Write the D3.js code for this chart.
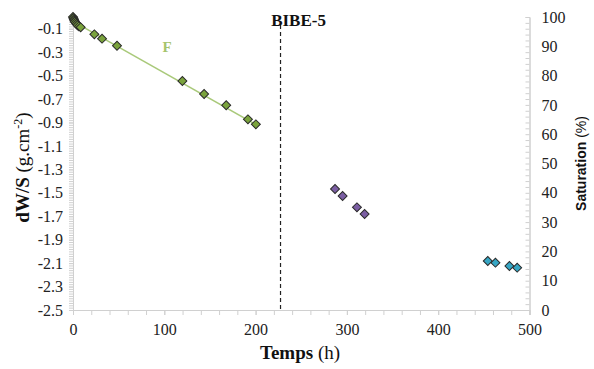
<!DOCTYPE html>
<html><head><meta charset="utf-8">
<script src="https://cdn.jsdelivr.net/npm/d3@7"></script>
<style>body{margin:0;background:#fff}svg{display:block}</style>
</head><body>
<svg id="c" width="594" height="369"></svg>
<script>
// Data
const greenT = [0, 0.5, 1, 1.5, 2, 3, 4, 5, 6.5, 8.4, 23.4, 31.8, 48.2, 119.8, 143.6, 167.8, 191.6, 200.3];
const greenV = [0, -0.01, -0.02, -0.03, -0.04, -0.05, -0.06, -0.07, -0.08, -0.088, -0.148, -0.185, -0.245, -0.546, -0.657, -0.753, -0.873, -0.916];
const purpleT = [287, 295.3, 311, 319.4];
const purpleV = [-1.468, -1.527, -1.624, -1.681];
const blueT = [454.3, 462.7, 478, 486.5];
const blueV = [-2.082, -2.096, -2.125, -2.139];
const fitT = [3, 201];
const fitV = [-0.05, -0.92];
const markerT = 227.3;
const leftTicks = [-0.1, -0.3, -0.5, -0.7, -0.9, -1.1, -1.3, -1.5, -1.7, -1.9, -2.1, -2.3, -2.5];
const rightTicks = [0, 10, 20, 30, 40, 50, 60, 70, 80, 90, 100];
const xTicks = [0, 100, 200, 300, 400, 500];

const SERIF = "'Liberation Serif','Times New Roman',serif";
const svg = d3.select("#c").style("font-family", SERIF);
const L = 73, R = 529.5, T = 17, B = 310;
const x = d3.scaleLinear().domain([0, 500]).range([L, R]);
const y = d3.scaleLinear().domain([-2.5, 0]).range([B, T]);
const y2 = d3.scaleLinear().domain([0, 100]).range([B, T]);
const axisCol = "#d0d0d0", txtCol = "#222";

// minor ticks
const minorY = d3.range(0, 126).map(i => -2.5 + i * 0.02);
const gMinorY = svg.append("g").attr("transform", `translate(${L},0)`)
  .call(d3.axisLeft(y).tickValues(minorY).tickSize(4).tickFormat(""));
const gMinorY2 = svg.append("g").attr("transform", `translate(${R},0)`)
  .call(d3.axisLeft(y2).tickValues(d3.range(0, 101, 2)).tickSize(4).tickFormat(""));
const gMinorX = svg.append("g").attr("transform", `translate(0,${B})`)
  .call(d3.axisBottom(x).tickValues(d3.range(0, 501, 20)).tickSize(5).tickFormat(""));
[gMinorY, gMinorY2, gMinorX].forEach(g => {
  g.selectAll("line").attr("stroke", axisCol);
  g.select(".domain").attr("stroke", axisCol);
});

// labelled axes
const gy = svg.append("g").attr("transform", `translate(${L},0)`)
  .call(d3.axisLeft(y).tickValues(leftTicks).tickSize(4).tickPadding(6).tickFormat(d => d3.format(".1f")(d).replace("−", "-")));
const gy2 = svg.append("g").attr("transform", `translate(${R},0)`)
  .call(d3.axisRight(y2).tickValues(rightTicks).tickSize(0).tickPadding(12).tickFormat(d3.format("d")));
const gx = svg.append("g").attr("transform", `translate(0,${B})`)
  .call(d3.axisBottom(x).tickValues(xTicks).tickSize(5).tickPadding(9).tickFormat(d3.format("d")));
[gy, gy2, gx].forEach(g => {
  g.attr("font-family", null).attr("font-size", null);
  g.select(".domain").attr("stroke", axisCol);
  g.selectAll("line").attr("stroke", axisCol);
  g.selectAll("text").style("font-size", "16px").style("font-family", SERIF).attr("fill", txtCol);
});

// dashed marker line
svg.append("line").attr("x1", x(markerT)).attr("x2", x(markerT))
  .attr("y1", 25).attr("y2", B).attr("stroke", "#222").attr("stroke-width", 1.2)
  .attr("stroke-dasharray", "4,3");
svg.append("text").attr("x", x(markerT) + 18).attr("y", 26).attr("text-anchor", "middle")
  .style("font-size", "17px").attr("font-weight", "bold").attr("fill", "#111").text("BIBE-5");

// fit line
svg.append("line").attr("x1", x(fitT[0])).attr("y1", y(fitV[0]))
  .attr("x2", x(fitT[1])).attr("y2", y(fitV[1]))
  .attr("stroke", "#a9c97a").attr("stroke-width", 1.5);

svg.append("text").attr("x", 167).attr("y", 52).attr("text-anchor", "middle")
  .style("font-size", "15px").attr("font-weight", "bold").attr("fill", "#a6c46c").text("F");

// markers
const diamond = d3.symbol(d3.symbolSquare, 40)();
function plot(ts, vs, fill) {
  svg.append("g").selectAll("path").data(ts.map((t, i) => [t, vs[i]])).join("path")
    .attr("d", diamond)
    .attr("transform", d => `translate(${x(d[0])},${y(d[1])}) rotate(45)`)
    .attr("fill", fill).attr("stroke", "#2a2a2a").attr("stroke-width", 1);
}
plot(greenT, greenV, "#7aa33c");
plot(purpleT, purpleV, "#7b5ea3");
plot(blueT, blueV, "#36a6c4");

// axis titles
const lt = svg.append("text").attr("transform", `translate(29,${(T + B) / 2 + 4}) rotate(-90)`)
  .attr("text-anchor", "middle").style("font-size", "19px").attr("fill", "#111");
lt.append("tspan").attr("font-weight", "bold").text("dW/S ");
lt.append("tspan").text("(g.cm");
lt.append("tspan").style("font-size", "12px").attr("dy", -7).text("-2");
lt.append("tspan").attr("dy", 7).text(")");

const bt = svg.append("text").attr("x", 300).attr("y", 359).attr("text-anchor", "middle")
  .style("font-size", "19px").attr("fill", "#111");
bt.append("tspan").attr("font-weight", "bold").text("Temps ");
bt.append("tspan").text("(h)");

const rt = svg.append("text").attr("transform", `translate(586,${(T + B) / 2}) rotate(-90)`)
  .attr("text-anchor", "middle").style("font-size", "14px").attr("fill", "#111")
  .style("font-family", "'Liberation Sans Narrow','Liberation Sans',Arial,sans-serif");
rt.append("tspan").attr("font-weight", "bold").text("Saturation ");
rt.append("tspan").text("(%)");
</script>
</body></html>
